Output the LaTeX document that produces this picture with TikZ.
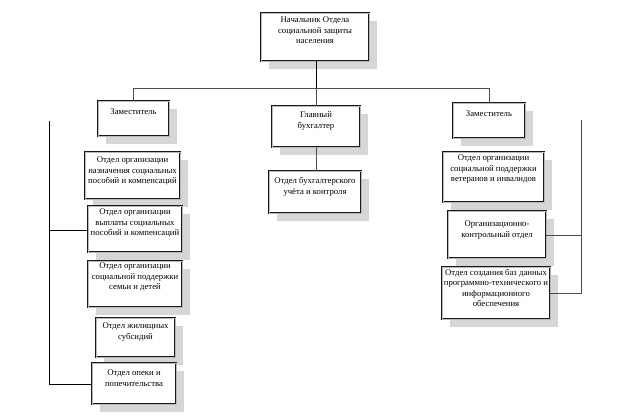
\documentclass[tikz,border=0pt]{standalone}
\usepackage{fontspec}
\setmainfont{Liberation Serif}
\usetikzlibrary{shadows}
\begin{document}
\begin{tikzpicture}[x=1pt,y=-1pt,
  box/.style={rectangle, draw=black!90, double=gray!55, double distance=0.8pt, line width=0.85pt,
    fill=white, inner sep=0pt,
    drop shadow={shadow xshift=8pt, shadow yshift=-8pt, fill=gray!32, opacity=1}},
  txt/.style={anchor=north, align=center, inner sep=0pt, font=\fontsize{8.7}{10.5}\selectfont},
  conn/.style={draw=gray!60!black, line width=0.8pt},
  connb/.style={draw=black, line width=0.8pt}]
\useasboundingbox (0,0) rectangle (626,419);
% box macro: name, x1, y1, x2, y2
\newcommand\orgbox[5]{\node[box, minimum width={#4-#2}, minimum height={#5-#3}] (#1) at ({(#2+#4)/2},{(#3+#5)/2}) {};}
\orgbox{top}{261}{13}{369}{61}
\orgbox{lz}{98}{101}{169}{136}
\orgbox{gb}{272}{106}{360}{147}
\orgbox{ob}{269}{171}{361}{213}
\orgbox{rz}{453}{103}{525}{138}
\orgbox{l1}{85}{152}{180}{199}
\orgbox{l2}{88}{206}{182}{252}
\orgbox{l3}{88}{261}{182}{307}
\orgbox{l4}{96}{318}{175}{357}
\orgbox{l5}{92}{363}{176}{404}
\orgbox{r1}{443}{152}{544}{202}
\orgbox{r2}{448}{211}{546}{258}
\orgbox{r3}{442}{267}{550}{319}
% texts
\node[txt] (ttop) at ([yshift=-4pt]top.north) {Начальник Отдела\\социальной защиты\\населения};
\node[txt] (tlz) at ([yshift=-8pt]lz.north) {Заместитель};
\node[txt] (tgb) at ([yshift=-6pt]gb.north) {Главный\\бухгалтер};
\node[txt] (tob) at ([yshift=-7pt]ob.north) {Отдел бухгалтерского\\учёта и контроля};
\node[txt] (trz) at ([yshift=-8pt]rz.north) {Заместитель};
\node[txt] (tl1) at ([yshift=-5pt]l1.north) {Отдел организации\\назначения социальных\\пособий и компенсаций};
\node[txt] (tl2) at ([yshift=-3pt]l2.north) {Отдел организации\\выплаты социальных\\пособий и компенсаций};
\node[txt] (tl3) at ([yshift=-2pt]l3.north) {Отдел организации\\социальной поддержки\\семьи и детей};
\node[txt] (tl4) at ([yshift=-5pt]l4.north) {Отдел жилищных\\субсидий};
\node[txt] (tl5) at ([yshift=-7pt]l5.north) {Отдел опеки и\\попечительства};
\node[txt] (tr1) at ([yshift=-3pt]r1.north) {Отдел организации\\социальной поддержки\\ветеранов и инвалидов};
\node[txt] (tr2) at ([yshift=-10pt]r2.north) {Организационно-\\контрольный отдел};
\node[txt] (tr3) at ([yshift=-2pt]r3.north) {Отдел создания баз данных\\программно-технического и\\информационного\\обеспечения};
% connectors
\coordinate (hl) at (133,88);
\coordinate (hr) at (489,88);
\coordinate (hm) at (316,88);
\draw[connb] (top.south -| hm) -- (hm);
\draw[conn] (lz.north -| hl) -- (hl) -- (hr) -- (rz.north -| hr);
\draw[conn] (hm) -- (gb.north -| hm);
\draw[conn] (gb.south -| hm) -- (ob.north -| hm);
\coordinate (lt) at (49,121);
\coordinate (lb) at (49,384);
\draw[connb] (lt) -- (lb) -- (l5.west |- lb);
\draw[connb] (49,230) -- (l2.west |- 0,230);
\coordinate (rt) at (581,120);
\coordinate (rb) at (581,293);
\draw[conn] (rt) -- (rb) -- (r3.east |- rb);
\draw[conn] (581,235) -- (r2.east |- 0,235);
\end{tikzpicture}
\end{document}
